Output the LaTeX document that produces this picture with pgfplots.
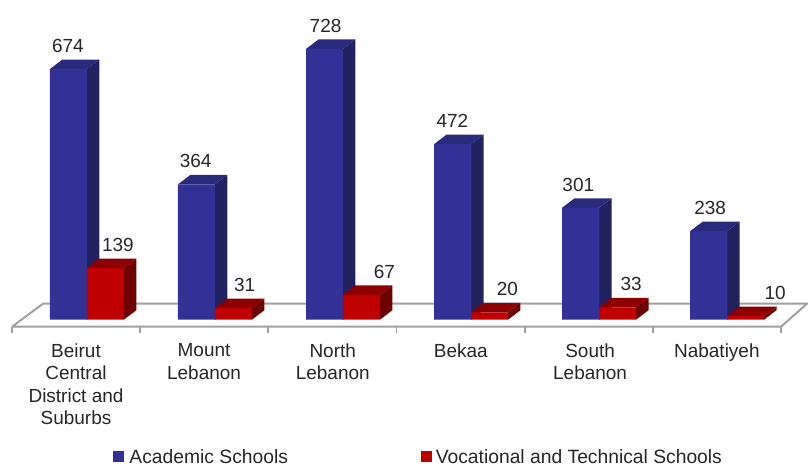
\documentclass[border=0pt]{standalone}
\usepackage{pgfplots}
\pgfplotsset{compat=1.18}
\usepackage{pgfplotstable}
\usepackage{fontspec}
\setmainfont{Liberation Sans}

\definecolor{acafront}{HTML}{323296}
\definecolor{acaside}{HTML}{222260}
\definecolor{acatop}{HTML}{2A2A7C}
\definecolor{vocfront}{HTML}{C00000}
\definecolor{vocside}{HTML}{6E0000}
\definecolor{voctop}{HTML}{8E0000}
\definecolor{floorline}{HTML}{A0A0A0}
\definecolor{labeltext}{HTML}{262626}

% bars: category position and value
\pgfplotstableread{
x  academic vocational
0  674      139
1  364      31
2  728      67
3  472      20
4  301      33
5  238      10
}\schools

% value labels: x position of the text and value
\pgfplotstableread{
lx      val
-0.148  674
0.850   364
1.864   728
2.855   472
3.838   301
4.867   238
0.242   139
1.232   31
2.324   67
3.284   20
4.251   33
5.375   10
}\labels

% depth of the fake 3D, in axis units
\newcommand{\bw}{0.2886}
\newcommand{\dx}{0.0975}
\newcommand{\dy}{25.5}

% side and top face of one bar: left edge, value, side colour, top colour
\newcommand{\faces}[4]{%
  \pgfmathsetmacro\xa{#1}%
  \pgfmathsetmacro\xb{#1+\bw}%
  \pgfmathsetmacro\xc{#1+\bw+\dx}%
  \pgfmathsetmacro\xd{#1+\dx}%
  \pgfmathsetmacro\yt{#2+\dy}%
  \addplot[forget plot, fill=#3, draw=none] coordinates {(\xb,0) (\xc,\dy) (\xc,\yt) (\xb,#2) (\xb,0)};
  \addplot[forget plot, fill=#4, draw=none] coordinates {(\xa,#2) (\xd,\yt) (\xc,\yt) (\xb,#2) (\xa,#2)};
}

\begin{document}
\begin{tikzpicture}
\begin{axis}[
  scale only axis,
  width=808bp, height=464bp,
  xmin=-0.6786, xmax=5.624,
  ymin=-386.7, ymax=859.3,
  clip=false,
  axis line style={draw=none},
  major tick length=0pt,
  ytick=\empty,
  xtick={-0.085,0.915,1.92,2.92,3.93,4.92},
  xticklabels={Beirut\\Central\\District and\\Suburbs, Mount\\Lebanon, North\\Lebanon, Bekaa, South\\Lebanon, Nabatiyeh},
  xticklabel style={font=\fontsize{19bp}{22.5bp}\selectfont, text=labeltext, align=center, anchor=north, yshift=123.5bp},
  legend columns=2,
  legend style={at={(rel axis cs:0.14,0.0)}, anchor=south west, draw=none, fill=none,
    font=\fontsize{19.3bp}{20bp}\selectfont, text=labeltext, inner sep=0pt, outer sep=0pt, yshift=-3bp,
    /tikz/column 1/.style={column sep=3.5bp},
    /tikz/column 2/.style={column sep=131bp},
    /tikz/column 3/.style={column sep=2bp}},
  legend image code/.code={\fill[#1,draw=none] (0bp,-5bp) rectangle (11bp,6bp);},
]

% floor
\addplot[forget plot, fill=white, draw=floorline, line width=2bp] coordinates
  {(-0.585,-18.8) (-0.343,43) (5.624,43) (5.421,-18.8) (-0.585,-18.8)};
% ticks under the floor
\addplot[forget plot, draw=floorline, line width=1.8bp] coordinates {(-0.585,-18.8) (-0.585,-34.9)};
\addplot[forget plot, draw=floorline, line width=1.8bp] coordinates {(0.416,-18.8) (0.416,-34.9)};
\addplot[forget plot, draw=floorline, line width=1.8bp] coordinates {(1.417,-18.8) (1.417,-34.9)};
\addplot[forget plot, draw=floorline, line width=1.8bp] coordinates {(2.418,-18.8) (2.418,-34.9)};
\addplot[forget plot, draw=floorline, line width=1.8bp] coordinates {(3.419,-18.8) (3.419,-34.9)};
\addplot[forget plot, draw=floorline, line width=1.8bp] coordinates {(4.420,-18.8) (4.420,-34.9)};
\addplot[forget plot, draw=floorline, line width=1.8bp] coordinates {(5.421,-18.8) (5.421,-34.9)};

% Academic Schools
\faces{-0.2886}{674}{acaside}{acatop}
\faces{0.7114}{364}{acaside}{acatop}
\faces{1.7114}{728}{acaside}{acatop}
\faces{2.7114}{472}{acaside}{acatop}
\faces{3.7114}{301}{acaside}{acatop}
\faces{4.7114}{238}{acaside}{acatop}
\addplot[ybar, bar width=37bp, bar shift=-18.5bp, fill=acafront, draw=none] table[x=x, y=academic] {\schools};
\addlegendentry{Academic Schools}

% Vocational and Technical Schools
\faces{0}{139}{vocside}{voctop}
\faces{1}{31}{vocside}{voctop}
\faces{2}{67}{vocside}{voctop}
\faces{3}{20}{vocside}{voctop}
\faces{4}{33}{vocside}{voctop}
\faces{5}{10}{vocside}{voctop}
\addplot[ybar, bar width=37bp, bar shift=18.5bp, fill=vocfront, draw=none] table[x=x, y=vocational] {\schools};
\addlegendentry{Vocational and Technical Schools}

% value labels
\addplot[forget plot, draw=none, mark=none, point meta=y,
  nodes near coords={\pgfmathprintnumber{\pgfplotspointmeta}},
  nodes near coords style={font=\fontsize{19bp}{20bp}\selectfont, text=labeltext, anchor=center, yshift=23bp,
    /pgf/number format/assume math mode=true, /pgf/number format/1000 sep={}},
  ] table[x=lx, y=val] {\labels};

\end{axis}
\end{tikzpicture}
\end{document}
